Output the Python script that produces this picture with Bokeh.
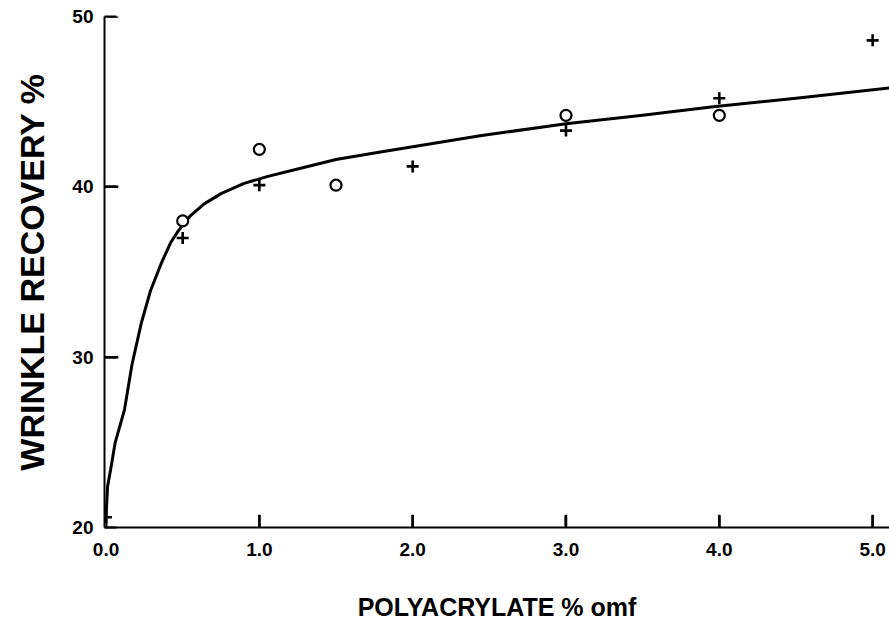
from bokeh.plotting import figure
from bokeh.models import FixedTicker, Range1d, CustomJSTickFormatter
from bokeh.embed import file_html
from bokeh.resources import INLINE

# Data
cross_x = [0.0, 0.5, 1.0, 2.0, 3.0, 4.0, 5.0]
cross_y = [20.6, 37.0, 40.1, 41.2, 43.3, 45.2, 48.6]

circle_x = [0.5, 1.0, 1.5, 3.0, 4.0]
circle_y = [38.0, 42.2, 40.1, 44.2, 44.2]

curve_x = [0.0, 0.01, 0.03, 0.06, 0.12, 0.17, 0.23, 0.29, 0.36, 0.42, 0.47, 0.55,
           0.64, 0.75, 0.9, 1.05, 1.23, 1.5, 1.79, 2.0, 2.44, 3.0, 3.5, 3.96, 4.5, 5.11]
curve_y = [20.6, 22.4, 23.4, 25.0, 26.9, 29.6, 32.0, 33.9, 35.5, 36.7, 37.4, 38.3,
           39.0, 39.6, 40.2, 40.6, 41.0, 41.6, 42.05, 42.35, 43.0, 43.7, 44.2, 44.7, 45.2, 45.8]

x_ticks = [0, 1, 2, 3, 4, 5]
y_ticks = [20, 30, 40, 50]

FONT = "Liberation Sans"
X0 = -0.01   # left end of the x range (where the y axis sits)
Y0 = 20      # bottom end of the y range (where the x axis sits)

p = figure(width=889, height=625, output_backend="svg", toolbar_location=None,
           x_range=Range1d(X0, 5.11), y_range=Range1d(Y0, 50),
           min_border_left=104, min_border_right=0, min_border_top=16, min_border_bottom=98)
p.outline_line_color = None
p.xgrid.visible = False
p.ygrid.visible = False

# inward tick marks (drawn from the tick arrays)
p.segment(x0=x_ticks[1:], y0=[Y0] * 5, x1=x_ticks[1:], y1=[Y0 + 0.75] * 5,
          line_color="black", line_width=2.5)
p.segment(x0=[X0] * 3, y0=y_ticks[1:], x1=[X0 + 0.09] * 3, y1=y_ticks[1:],
          line_color="black", line_width=2.5)

p.line(curve_x, curve_y, line_color="black", line_width=3, line_join="round")
p.scatter(circle_x, circle_y, marker="circle", size=11, line_color="black",
          line_width=2.2, fill_color="white")
p.scatter(cross_x, cross_y, marker="cross", size=12, line_color="black", line_width=2.6)

for ax in (p.xaxis[0], p.yaxis[0]):
    ax.axis_line_width = 2
    ax.axis_line_color = "black"
    ax.major_tick_line_color = "black"
    ax.major_tick_line_width = 2
    ax.major_tick_in = 12
    ax.major_tick_out = 0
    ax.minor_tick_line_color = None
    ax.major_label_text_font = FONT
    ax.major_label_text_font_style = "bold"
    ax.major_label_text_font_size = "19px"
    ax.major_label_text_color = "black"
    ax.axis_label_text_font = FONT
    ax.axis_label_text_font_style = "bold"
    ax.axis_label_text_color = "black"

p.xaxis.ticker = FixedTicker(ticks=x_ticks)
p.xaxis.formatter = CustomJSTickFormatter(code="return tick.toFixed(1);")
p.yaxis.ticker = FixedTicker(ticks=y_ticks)
p.xaxis.major_label_standoff = 15
p.yaxis.major_label_standoff = 11

p.yaxis.axis_label = "WRINKLE RECOVERY %"
p.yaxis.axis_label_text_font_size = "34px"
p.yaxis.axis_label_standoff = 18

p.xaxis.axis_label = "POLYACRYLATE % omf"
p.xaxis.axis_label_text_font_size = "25px"
p.xaxis.axis_label_standoff = 34

open("out.html", "w").write(file_html(p, INLINE))
